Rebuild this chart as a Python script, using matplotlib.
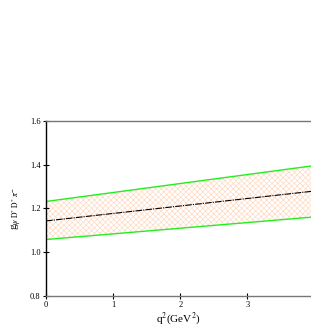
import numpy as np
import matplotlib
matplotlib.use("Agg")
import matplotlib.pyplot as plt

plt.rcParams['font.family'] = ['Liberation Serif', 'DejaVu Serif']
plt.rcParams['mathtext.fontset'] = 'stix'
plt.rcParams['hatch.linewidth'] = 0.5

# q^2 end points and coupling values (central, upper, lower)
q2 = [0.0, 3.95]
g_central = [1.143, 1.278]
g_upper = [1.232, 1.394]
g_lower = [1.058, 1.160]

xticks = [0, 1, 2, 3]
yticks = [0.8, 1.0, 1.2, 1.4, 1.6]

fig = plt.figure(figsize=(3.11, 3.27), dpi=100)
ax = fig.add_axes([0.148, 0.095, 0.852, 0.535])

ax.fill_between(q2, g_lower, g_upper, facecolor='white', edgecolor='#ffd9c0',
                hatch='xxxxxx', linewidth=0)
ax.plot(q2, g_upper, color='#22ee22', lw=1.0)
ax.plot(q2, g_lower, color='#22ee22', lw=1.0)
ax.plot(q2, g_central, color='black', lw=0.8, ls=(0, (6, 1, 1, 1)))

ax.set_xlim(0, 3.95)
ax.set_ylim(0.8, 1.6)
ax.set_xticks(xticks)
ax.set_xticklabels([str(t) for t in xticks], fontsize=6)
ax.set_yticks(yticks)
ax.set_yticklabels([f"{t:.1f}" for t in yticks], fontsize=6)
ax.tick_params(direction='inout', length=4, width=0.8, pad=2)

ax.spines['right'].set_visible(False)
ax.spines['top'].set_color('#777777')
ax.spines['bottom'].set_color('#777777')
ax.spines['left'].set_color('black')
for s in ax.spines.values():
    s.set_linewidth(1.0)

ax.set_xlabel(r'q$^2$(GeV$^2$)', fontsize=8, labelpad=1)
ax.set_ylabel(r'g$_{\psi\ \mathrm{D^{*}\ D^{*}}\ \pi^{-}}$', fontsize=8, labelpad=4)

fig.savefig('out.png', dpi=100)
